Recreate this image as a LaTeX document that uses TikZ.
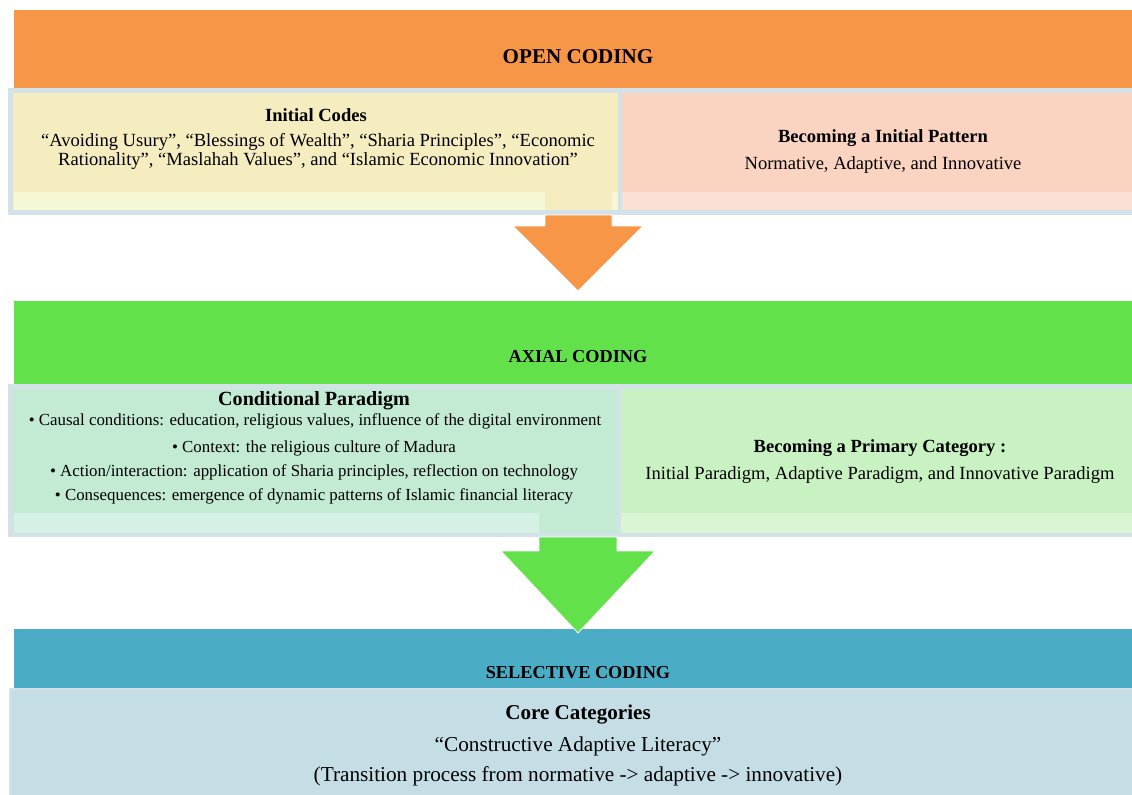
\documentclass[tikz,border=0pt]{standalone}
\usepackage{fontspec}
\setmainfont{Liberation Serif}
\definecolor{openband}{HTML}{F79646}
\definecolor{axialband}{HTML}{62E14A}
\definecolor{selband}{HTML}{4BACC6}
\definecolor{frameblue}{HTML}{D3E2E8}
\definecolor{codesfill}{HTML}{F5EDC0}
\definecolor{codesstripe}{HTML}{F5F7D5}
\definecolor{patternfill}{HTML}{FAD4C1}
\definecolor{patternstripe}{HTML}{FBE0D5}
\definecolor{paradigmfill}{HTML}{C3EBD4}
\definecolor{paradigmstripe}{HTML}{D5F0E4}
\definecolor{categoryfill}{HTML}{C9F2C2}
\definecolor{categorystripe}{HTML}{DAF5D3}
\definecolor{corefill}{HTML}{C5DEE6}
\tikzset{panel/.style={draw=frameblue, line width=3.5pt},
  bandlbl/.style={inner sep=0pt, font=\fontsize{13}{15}\selectfont\bfseries}}

\begin{document}
\begin{tikzpicture}[x=0.025cm, y=-0.025cm, every node/.style={inner sep=0pt,
  align=center}, hd/.style={font=\fontsize{13.2}{15}\selectfont\bfseries},
  txt/.style={font=\fontsize{13.2}{13.5}\selectfont},
  bul/.style={font=\fontsize{12}{13}\selectfont}]
  \useasboundingbox (0,0) rectangle (1132,795);
  % Coding stages
  \fill[openband]  (14,10)  rectangle (1132,88);
  \fill[axialband] (14,301) rectangle (1132,385);
  \fill[selband]   (14,629) rectangle (1132,688);
  \node[bandlbl, font=\fontsize{15}{17}\selectfont\bfseries] (open) at (578,57)
    {OPEN CODING};
  \node[bandlbl] (axial) at (578,357) {AXIAL CODING};
  \node[bandlbl] (selective) at (578,673) {SELECTIVE CODING};
  % Open coding panels
  \fill[codesfill]     (10,90) rectangle (620,212);
  \fill[codesstripe]   (14,192) rectangle (545,210);
  \fill[codesstripe]   (612,192) rectangle (620,210);
  \fill[patternfill]   (620,90) rectangle (1132,212);
  \fill[patternstripe] (620,192) rectangle (1132,210);
  \draw[panel] (10.5,90.5) rectangle (620,212.5);
  \draw[panel] (620,90.5) rectangle (1140,212.5);
  \node[hd] (codes) at (316,115) {Initial Codes};
  \node[txt] (codeslist) at (318,151.5)
    {``Avoiding Usury'', ``Blessings of Wealth'', ``Sharia Principles'', ``Economic\\
     Rationality'', ``Maslahah Values'', and ``Islamic Economic Innovation''};
  \node[hd] (pattern) at (883,138) {Becoming a Initial Pattern};
  \node[txt] (patternlist) at (883,165) {Normative, Adaptive, and Innovative};
  % Down to axial coding
  \fill[openband, draw=white, line width=0.6pt] (545,215) -- (612,215) -- (612,226)
    -- (643,226) -- (578,291) -- (513,226) -- (545,226) -- cycle;
  % Axial coding panels
  \fill[paradigmfill]   (10,387) rectangle (619,535);
  \fill[paradigmstripe] (14,513) rectangle (539,533);
  \fill[categoryfill]   (619,387) rectangle (1132,535);
  \fill[categorystripe] (619,513) rectangle (1132,533);
  \draw[panel] (10.5,386.5) rectangle (619,535);
  \draw[panel] (619,386.5) rectangle (1140,535);
  \node[font=\fontsize{14.3}{16}\selectfont\bfseries] (paradigm) at (314,401)
    {Conditional Paradigm};
  \node[bul] (causal) at (315,421)
    {\textbullet\ Causal conditions: education, religious values, influence of the digital environment};
  \node[bul] (context) at (314,448)
    {\textbullet\ Context: the religious culture of Madura};
  \node[bul] (action) at (314,472)
    {\textbullet\ Action/interaction: application of Sharia principles, reflection on technology};
  \node[bul] (conseq) at (314,496)
    {\textbullet\ Consequences: emergence of dynamic patterns of Islamic financial literacy};
  \node[hd] (category) at (880,448) {Becoming a Primary Category :};
  \node[txt] (categorylist) at (880,475)
    {Initial Paradigm, Adaptive Paradigm, and Innovative Paradigm};
  % Down to selective coding
  \fill[axialband, draw=white, line width=0.6pt] (539,537) -- (617,537) -- (617,551)
    -- (655,551) -- (578,633) -- (501,551) -- (539,551) -- cycle;
  % Selective coding panel
  \fill[corefill] (10,688) rectangle (1132,795);
  \draw[frameblue, line width=2pt] (10,800) -- (10,689) -- (1140,689);
  \node[font=\fontsize{15}{17}\selectfont\bfseries] (core) at (578,715)
    {Core Categories};
  \node[font=\fontsize{15.1}{17}\selectfont] (coreterm) at (578,746)
    {``Constructive Adaptive Literacy''};
  \node[font=\fontsize{15.1}{17}\selectfont] (corenote) at (578,776)
    {(Transition process from normative -> adaptive -> innovative)};
\end{tikzpicture}
\end{document}
